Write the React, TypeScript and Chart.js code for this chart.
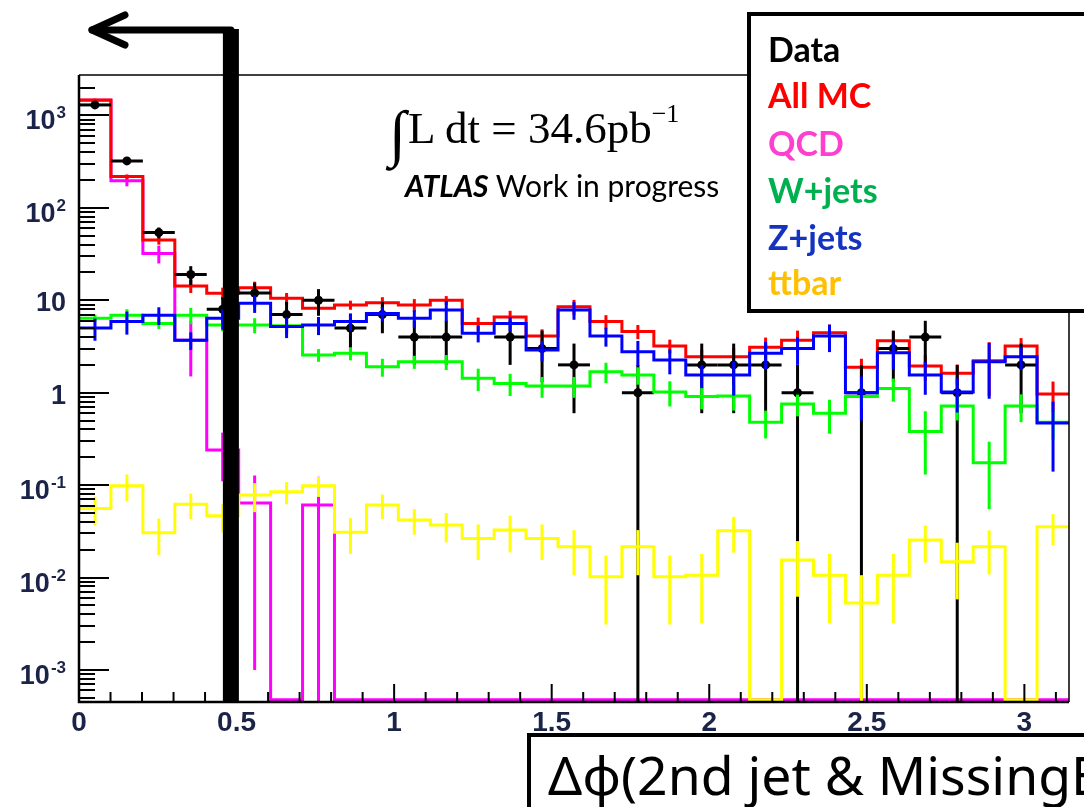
import React, { useEffect, useRef } from "react";
import { Chart, registerables } from "chart.js";

Chart.register(...registerables);

const W = 1084;
const H = 807;

// ---- binning: 31 bins from 0 to pi ----
const N_BINS = 31;
const X_MIN = 0;
const X_MAX = Math.PI;

// ---- per-bin values ----
const dataValues = [1300, 322, 54, 19, 8, 12, 7, 10, 5, 7, 4, 4, 0, 4, 3, 2, 0, 1, 0, 2, 2, 2, 1, 0, 1, 3, 4, 1, 0, 2, 0];
const dataErrors = [36, 18, 7.3, 4.4, 2.8, 3.5, 2.6, 3.2, 2.2, 2.6, 2, 2, 0, 2, 1.7, 1.4, 0, 1, 0, 1.4, 1.4, 1.4, 1, 0, 1, 1.7, 2, 1, 0, 1.4, 0];

const allMCValues = [1472, 218, 45, 14.3, 11.9, 13.7, 10.5, 8.2, 8.9, 9.4, 8.9, 10.0, 5.6, 6.6, 4.1, 8.5, 5.9, 4.6, 3.2, 2.45, 2.45, 3.1, 3.7, 4.46, 1.88, 3.66, 1.95, 1.62, 2.22, 3.2, 0.97];
const allMCErrors = [50, 12, 5, 2.3, 1.8, 2.2, 1.5, 1.3, 1.0, 1.4, 1.4, 1.1, 0.9, 1.1, 0.75, 1.6, 1.0, 0.8, 0.55, 0.45, 0.6, 0.85, 1.0, 1.0, 0.45, 0.9, 0.6, 0.4, 1.3, 0.7, 0.35];

const qcdValues = [1460, 197, 32, 3.7, 0.24, 0.064, 0, 0.061, 0, 0, 0, 0, 0, 0, 0, 0, 0, 0, 0, 0, 0, 0, 0, 0, 0, 0, 0, 0, 0, 0, 0];
const qcdErrors = [50, 26, 7, 2.2, 0.13, 0.063, 0, 0.062, 0, 0, 0, 0, 0, 0, 0, 0, 0, 0, 0, 0, 0, 0, 0, 0, 0, 0, 0, 0, 0, 0, 0];

const wjetsValues = [6.4, 6.9, 5.6, 6.9, 5.4, 5.4, 5.3, 2.56, 2.67, 1.91, 2.16, 2.16, 1.43, 1.26, 1.18, 1.18, 1.69, 1.55, 1.02, 0.91, 0.92, 0.48, 0.755, 0.6, 0.91, 1.11, 0.38, 0.72, 0.175, 0.72, 0.48];
const wjetsErrors = [0.6, 1.1, 0.7, 1.4, 0.8, 1.0, 0.8, 0.4, 0.43, 0.42, 0.35, 0.4, 0.39, 0.34, 0.3, 0.3, 0.42, 0.33, 0.31, 0.25, 0.28, 0.16, 0.2, 0.24, 0.23, 0.31, 0.25, 0.22, 0.12, 0.24, 0.17];

const zjetsValues = [5.0, 5.9, 6.9, 3.7, 6.4, 9.3, 5.2, 5.4, 5.9, 7.2, 6.4, 7.85, 4.4, 5.6, 2.9, 7.85, 4.1, 2.78, 2.26, 1.55, 1.55, 2.67, 3.0, 4.1, 1.0, 2.71, 1.55, 1.02, 2.16, 2.45, 0.47];
const zjetsErrors = [1.35, 1.65, 1.5, 0.8, 1.6, 2.0, 1.3, 1.2, 1.2, 1.3, 1.4, 2.0, 0.9, 1.0, 0.72, 1.7, 0.95, 0.85, 0.68, 0.43, 0.62, 0.88, 1.0, 1.35, 0.5, 0.92, 0.6, 0.41, 1.3, 0.69, 0.33];

const ttbarValues = [0.056, 0.0985, 0.0305, 0.062, 0.0467, 0.078, 0.085, 0.0985, 0.031, 0.061, 0.042, 0.037, 0.0265, 0.0327, 0.0265, 0.0216, 0.0102, 0.0216, 0.0102, 0.0106, 0.032, 0, 0.0155, 0.0106, 0.0053, 0.0106, 0.0255, 0.0148, 0.0216, 0, 0.0355];
const ttbarErrors = [0.019, 0.032, 0.013, 0.019, 0.016, 0.027, 0.023, 0.024, 0.013, 0.018, 0.013, 0.013, 0.011, 0.014, 0.011, 0.011, 0.0071, 0.011, 0.0071, 0.0074, 0.0134, 0, 0.0093, 0.0074, 0.0053, 0.0074, 0.011, 0.009, 0.0108, 0, 0.013];

// ---- axes ----
const X_TICK_VALUES = [0, 0.5, 1, 1.5, 2, 2.5, 3];
const X_TICK_LABELS = ["0", "0.5", "1", "1.5", "2", "2.5", "3"];
const X_MINOR_STEP = 0.1;
const Y_TICK_VALUES = [1e-3, 1e-2, 1e-1, 1, 10, 100, 1000];
const Y_TICK_BASES = ["10", "10", "10", "1", "10", "10", "10"];
const Y_TICK_EXPONENTS = ["-3", "-2", "-1", "", "", "2", "3"];
const Y_MIN = 4.5e-4;
const Y_MAX = 2740;
const CUT_X = 0.482;

const LEGEND_LABELS = ["Data", "All MC", "QCD", "W+jets", "Z+jets", "ttbar"];
const LEGEND_COLORS = ["#000000", "#ff0000", "#ff3fcf", "#00b050", "#1434c0", "#ffc000"];

const LABEL_COLOR = "#1b2448";
const TICK_FONT = "'Liberation Sans', Arial, sans-serif";

const binEdges = Array.from({ length: N_BINS + 1 }, (_, k) => X_MIN + (k * (X_MAX - X_MIN)) / N_BINS);
const binCenters = binEdges.slice(0, -1).map((e, k) => (e + binEdges[k + 1]) / 2);
const Y_FLOOR = Y_MIN * 1.06;

function stepData(vals: number[]) {
  const pts = vals.map((v, k) => ({ x: binEdges[k], y: v > 0 ? v : Y_FLOOR }));
  const last = vals[vals.length - 1];
  pts.push({ x: binEdges[N_BINS], y: last > 0 ? last : Y_FLOOR });
  return pts;
}

function mcDataset(label: string, color: string, vals: number[], errs: number[], order: number) {
  return {
    label,
    data: stepData(vals),
    borderColor: color,
    backgroundColor: color,
    borderWidth: 3,
    stepped: "before",
    pointRadius: 0,
    fill: false,
    order,
    binValues: vals,
    errs,
    kind: "mc",
  } as any;
}

const histPlugin = {
  id: "histDecor",
  afterDatasetDraw(chart: any, args: any) {
    const ds = chart.data.datasets[args.index];
    if (!ds || !ds.errs) return;
    const xs = chart.scales.x;
    const ys = chart.scales.y;
    const area = chart.chartArea;
    const ctx = chart.ctx;
    ctx.save();
    ctx.beginPath();
    ctx.rect(area.left, area.top - 2, area.right - area.left, area.bottom - area.top + 3);
    ctx.clip();
    ctx.strokeStyle = ds.kind === "data" ? "#000" : ds.borderColor;
    ctx.lineWidth = 3;
    ctx.lineCap = "butt";
    const vals: number[] = ds.binValues;
    const errs: number[] = ds.errs;
    for (let k = 0; k < vals.length; k++) {
      const v = vals[k];
      const e = errs[k];
      if (!(v > 0)) continue;
      const cx = xs.getPixelForValue(binCenters[k]);
      const vy = ys.getPixelForValue(v);
      if (e > 0) {
        const hi = ys.getPixelForValue(v + e);
        const lo = v - e > 0 ? ys.getPixelForValue(v - e) : area.bottom;
        ctx.beginPath();
        ctx.moveTo(cx, hi);
        ctx.lineTo(cx, lo);
        ctx.stroke();
      }
      if (ds.kind === "data") {
        ctx.beginPath();
        ctx.moveTo(xs.getPixelForValue(binEdges[k]), vy);
        ctx.lineTo(xs.getPixelForValue(binEdges[k + 1]), vy);
        ctx.stroke();
      }
    }
    ctx.restore();
  },
  afterDatasetsDraw(chart: any) {
    const xs = chart.scales.x;
    const ys = chart.scales.y;
    const a = chart.chartArea;
    const ctx = chart.ctx;
    ctx.save();
    ctx.strokeStyle = "#000";
    ctx.lineCap = "butt";
    // frame
    ctx.lineWidth = 1.5;
    ctx.beginPath();
    ctx.moveTo(a.left, a.top);
    ctx.lineTo(a.right, a.top);
    ctx.lineTo(a.right, a.bottom);
    ctx.stroke();
    ctx.lineWidth = 2.5;
    ctx.beginPath();
    ctx.moveTo(a.left, a.top);
    ctx.lineTo(a.left, a.bottom);
    ctx.lineTo(a.right, a.bottom);
    ctx.stroke();
    // y ticks (inward)
    ctx.lineWidth = 2;
    const lmin = Math.floor(Math.log10(Y_MIN));
    const lmax = Math.ceil(Math.log10(Y_MAX));
    for (let p = lmin; p <= lmax; p++) {
      for (let m = 1; m <= 9; m++) {
        const v = m * Math.pow(10, p);
        if (v < Y_MIN || v > Y_MAX) continue;
        const py = Math.round(ys.getPixelForValue(v));
        const len = m === 1 ? 30 : 16;
        ctx.beginPath();
        ctx.moveTo(a.left, py);
        ctx.lineTo(a.left + len, py);
        ctx.stroke();
      }
    }
    // x ticks (inward)
    const nMinor = Math.floor((X_MAX - X_MIN) / X_MINOR_STEP + 1e-9);
    for (let i = 1; i <= nMinor; i++) {
      const v = X_MIN + i * X_MINOR_STEP;
      const px = xs.getPixelForValue(v);
      const isMajor = X_TICK_VALUES.some((t) => Math.abs(t - v) < 1e-6);
      ctx.beginPath();
      ctx.moveTo(px, a.bottom);
      ctx.lineTo(px, a.bottom - (isMajor ? 18 : 10));
      ctx.stroke();
    }
    // y tick labels with superscript exponents
    ctx.fillStyle = LABEL_COLOR;
    ctx.textAlign = "left";
    ctx.textBaseline = "alphabetic";
    const baseFont = `bold 27px ${TICK_FONT}`;
    const expFont = `bold 17px ${TICK_FONT}`;
    const right = a.left - 13;
    Y_TICK_VALUES.forEach((v, i) => {
      const py = ys.getPixelForValue(v);
      const base = Y_TICK_BASES[i];
      const exp = Y_TICK_EXPONENTS[i];
      ctx.font = expFont;
      const ew = exp ? ctx.measureText(exp).width + 1 : 0;
      ctx.font = baseFont;
      const bw = ctx.measureText(base).width;
      const bx = right - ew - bw;
      const baseline = exp ? py + 14 : py + 11;
      ctx.fillText(base, bx, baseline);
      if (exp) {
        ctx.font = expFont;
        ctx.fillText(exp, bx + bw + 1, baseline - 11);
      }
    });
    ctx.restore();
  },
  afterDraw(chart: any) {
    const xs = chart.scales.x;
    const a = chart.chartArea;
    const ctx = chart.ctx;
    const cx = xs.getPixelForValue(CUT_X);
    const arrowY = a.top - 45;
    ctx.save();
    ctx.fillStyle = "#000";
    ctx.fillRect(cx - 8, arrowY - 1, 16, a.bottom + 1 - (arrowY - 1));
    ctx.strokeStyle = "#000";
    ctx.lineWidth = 7;
    ctx.lineCap = "round";
    ctx.lineJoin = "round";
    const tipX = a.left + 13;
    ctx.beginPath();
    ctx.moveTo(cx, arrowY);
    ctx.lineTo(tipX, arrowY);
    ctx.stroke();
    ctx.beginPath();
    ctx.moveTo(tipX + 33, arrowY - 15);
    ctx.lineTo(tipX, arrowY);
    ctx.lineTo(tipX + 33, arrowY + 15);
    ctx.stroke();
    ctx.restore();
  },
};

export default function App() {
  const ref = useRef<HTMLCanvasElement | null>(null);

  useEffect(() => {
    const canvas = ref.current;
    if (!canvas) return;
    const datasets: any[] = [
      mcDataset("QCD", "#ff00ff", qcdValues, qcdErrors, 6),
      mcDataset("All MC", "#ff0000", allMCValues, allMCErrors, 5),
      {
        label: "Data",
        data: dataValues.map((v, k) => ({ x: binCenters[k], y: v > 0 ? v : null })),
        showLine: false,
        pointRadius: 4.5,
        pointBackgroundColor: "#000",
        pointBorderColor: "#000",
        pointBorderWidth: 0,
        borderColor: "#000",
        order: 4,
        binValues: dataValues,
        errs: dataErrors,
        kind: "data",
      },
      mcDataset("W+jets", "#00ff00", wjetsValues, wjetsErrors, 3),
      mcDataset("Z+jets", "#0000ff", zjetsValues, zjetsErrors, 2),
      mcDataset("ttbar", "#ffff00", ttbarValues, ttbarErrors, 1),
    ];

    const chart = new Chart(canvas, {
      type: "line",
      data: { datasets },
      options: {
        responsive: false,
        animation: false,
        devicePixelRatio: 1,
        layout: { padding: { left: 0, top: 75, right: 15, bottom: 0 } },
        plugins: { legend: { display: false }, tooltip: { enabled: false } },
        elements: { line: { tension: 0 } },
        scales: {
          x: {
            type: "linear",
            min: X_MIN,
            max: X_MAX,
            grid: { display: false, drawTicks: false },
            border: { display: false },
            afterBuildTicks: (s: any) => {
              s.ticks = X_TICK_VALUES.map((v) => ({ value: v }));
            },
            afterFit: (s: any) => {
              s.height = H - 702;
            },
            ticks: {
              autoSkip: false,
              maxRotation: 0,
              padding: 4,
              color: LABEL_COLOR,
              font: { family: TICK_FONT, weight: "bold", size: 28 },
              callback: (_v: any, i: number) => X_TICK_LABELS[i],
            },
          },
          y: {
            type: "logarithmic",
            min: Y_MIN,
            max: Y_MAX,
            grid: { display: false, drawTicks: false },
            border: { display: false },
            afterBuildTicks: (s: any) => {
              s.ticks = Y_TICK_VALUES.map((v) => ({ value: v, major: true }));
            },
            afterFit: (s: any) => {
              s.width = 79;
            },
            ticks: { display: false },
          },
        },
      } as any,
      plugins: [histPlugin as any],
    });
    return () => chart.destroy();
  }, []);

  const legendBaselines = [62, 108, 156, 203, 250, 295];

  return (
    <div style={{ position: "fixed", left: 0, top: 0, width: W, height: H, overflow: "hidden", background: "#fff" }}>
      <canvas ref={ref} width={W} height={H} style={{ position: "absolute", left: 0, top: 0, width: W, height: H }} />
      <svg width={W} height={H} style={{ position: "absolute", left: 0, top: 0, pointerEvents: "none" }}>
        {/* luminosity */}
        <text x={389} y={154} fontFamily="'Liberation Serif', 'DejaVu Serif', serif" fontSize={62} fill="#000">
          ∫
        </text>
        <text x={408} y={143} fontFamily="'Liberation Serif', serif" fontSize={45} fill="#000">
          L dt = 34.6pb
          <tspan fontSize={26} dy={-21}>
            −1
          </tspan>
        </text>
        <text x={405} y={197} fontFamily="Lato, 'Open Sans', sans-serif" fontSize={30} fill="#000">
          <tspan fontWeight="bold" fontStyle="italic">
            ATLAS
          </tspan>
          <tspan> Work in progress</tspan>
        </text>
        {/* legend box */}
        <rect x={749} y={14} width={420} height={297} fill="#fff" stroke="#000" strokeWidth={4} />
        {LEGEND_LABELS.map((l, i) => (
          <text
            key={l}
            x={768}
            y={legendBaselines[i]}
            fontFamily="Lato, 'Open Sans', sans-serif"
            fontWeight="bold"
            fontSize={34}
            fill={LEGEND_COLORS[i]}
          >
            {l}
          </text>
        ))}
        {/* x-axis title box */}
        <rect x={529} y={735} width={620} height={120} fill="#fff" stroke="#000" strokeWidth={4} />
        <text x={548} y={795} fontFamily="'Noto Sans', sans-serif" fontSize={53.5} fill="#000">
          Δφ(2nd jet &amp; MissingE
          <tspan fontSize={34} dy={10}>
            T
          </tspan>
          <tspan dy={-10}>)</tspan>
        </text>
      </svg>
    </div>
  );
}
